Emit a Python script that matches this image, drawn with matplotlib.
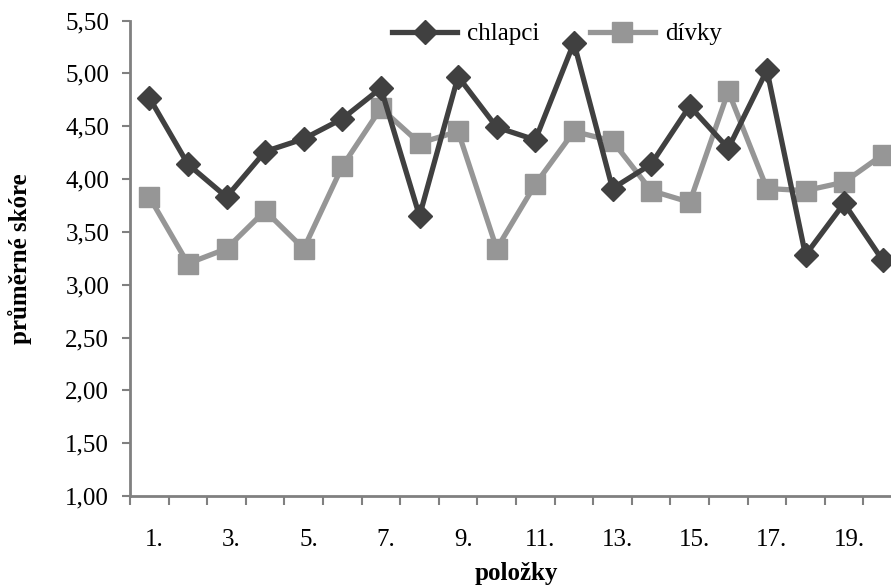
import matplotlib
matplotlib.use("Agg")
import matplotlib.pyplot as plt
from matplotlib.ticker import FuncFormatter
from matplotlib.transforms import ScaledTranslation

# data
polozky = list(range(1, 21))
chlapci = [4.77, 4.14, 3.83, 4.26, 4.38, 4.57, 4.86, 3.65, 4.97, 4.49,
           4.37, 5.29, 3.91, 4.14, 4.69, 4.29, 5.03, 3.28, 3.77, 3.23]
divky = [3.83, 3.20, 3.34, 3.70, 3.34, 4.12, 4.67, 4.34, 4.45, 3.34,
         3.95, 4.45, 4.36, 3.89, 3.78, 4.83, 3.91, 3.89, 3.97, 4.23]
x_labels = [f"{i}." for i in polozky[::2]]
y_ticks = [1.0, 1.5, 2.0, 2.5, 3.0, 3.5, 4.0, 4.5, 5.0, 5.5]

plt.rcParams['font.family'] = ['Liberation Serif', 'DejaVu Serif']
plt.rcParams['font.size'] = 18

fig = plt.figure(figsize=(8.91, 5.88), dpi=100)
ax = fig.add_axes([130 / 891, 92 / 588, 772 / 891, 475.5 / 588])

dark = '#404040'
light = '#969696'
axis_col = '#808080'

ax.plot(polozky, chlapci, color=dark, lw=3.8, marker='D', ms=12,
        mfc=dark, mec=dark, label='chlapci', clip_on=False, zorder=3)
ax.plot(polozky, divky, color=light, lw=3.8, marker='s', ms=15,
        mfc=light, mec=light, label='dívky', clip_on=False, zorder=2)

ax.set_xlim(0.5, 20.5)
ax.set_ylim(1.0, 5.5)

# tick marks between categories, labels on every other category
ax.set_xticks([i + 0.5 for i in range(0, 21)])
ax.set_xticklabels([])
ax.set_xticks(polozky[::2], minor=True)
ax.set_xticklabels(x_labels, minor=True)
ax.tick_params(axis='x', which='major', direction='out', length=6.5,
               width=1.5, color=axis_col)
ax.tick_params(axis='x', which='minor', length=0, pad=24)
for lbl in ax.get_xticklabels(minor=True):
    lbl.set_transform(lbl.get_transform() + ScaledTranslation(5 / 100, 0, fig.dpi_scale_trans))

ax.set_yticks(y_ticks)
ax.yaxis.set_major_formatter(FuncFormatter(lambda v, p: f"{v:.2f}".replace('.', ',')))
ax.tick_params(axis='y', direction='out', length=6, width=1.5,
               color=axis_col, pad=9)

for s in ['top', 'right']:
    ax.spines[s].set_visible(False)
for s in ['left', 'bottom']:
    ax.spines[s].set_color(axis_col)
    ax.spines[s].set_linewidth(2)

ax.set_xlabel('položky', fontweight='bold', fontsize=18, labelpad=8)
ax.set_ylabel('průměrné skóre', fontweight='bold', fontsize=18, labelpad=24)

ax.legend(loc='center', bbox_to_anchor=(557 / 891, 1 - 34 / 588),
          bbox_transform=fig.transFigure, ncol=2, frameon=False,
          handlelength=2.6, handletextpad=0.4, columnspacing=2.0,
          borderaxespad=0, borderpad=0)

fig.savefig('out.png', dpi=100)
